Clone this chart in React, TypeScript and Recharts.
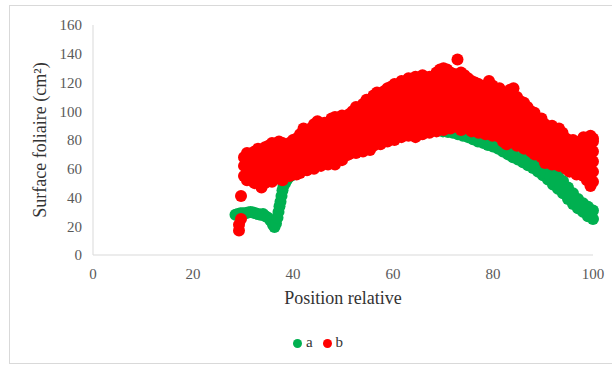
import { Legend, Scatter, ScatterChart, XAxis, YAxis } from 'recharts';

const SERIF = "'Liberation Serif', 'Times New Roman', serif";
const GREEN = '#00B050';
const RED = '#FF0000';

const xTicks = [0, 20, 40, 60, 80, 100];
const yTicks = [0, 20, 40, 60, 80, 100, 120, 140, 160];

// série a : [position relative, surface foliaire]
const aPoints: [number, number][] = [
  [28.5, 28], [29, 28.5], [29.5, 29], [30, 29], [30.5, 29], [31, 29.5], [31.5, 30], [32, 29.5],
  [32.5, 29], [33, 28.5], [33.5, 28], [34, 28.5], [34.5, 27], [35, 26], [35.5, 24], [36, 21],
  [36.3, 19.5], [36.6, 22], [36.9, 26], [37.1, 30], [37.3, 34], [37.5, 37], [37.7, 41], [37.9, 45],
  [38.1, 48], [38.4, 50], [38.7, 52], [39, 53.5], [39.5, 55], [40, 56.5],
  [41, 58], [42, 60], [43, 62], [44, 64], [45, 66], [46, 67.5], [47, 69], [48, 71], [49, 72.5],
  [50, 74], [51, 75], [52, 76.5], [53, 77.5], [54, 78.5], [55, 79.5], [56, 80.5], [57, 81.5],
  [58, 82.5], [59, 83.5], [60, 84], [61, 85], [62, 85.5], [63, 86], [64, 86.5], [65, 87], [66, 87],
  [67, 87], [68, 87], [69, 86.5], [70, 86], [71, 85.5], [72, 85], [73, 84], [74, 83], [75, 82],
  [76, 80.5],
  [77, 79], [78, 78], [79, 76.5], [80, 75.5], [81, 74], [82, 72], [83, 70], [84, 68], [85, 66.5],
  [86, 64.5], [87, 62.5], [88, 60.5], [89, 58], [90, 55.5], [91, 52.5], [92, 49], [93, 46], [94, 43],
  [95, 39], [96, 35.5], [97, 32.5], [98, 30], [99, 27], [100, 25],
  [78, 81], [80, 79], [82, 76], [84, 72.5], [86, 69], [87, 67], [88, 65], [89, 63], [90, 61],
  [91, 59], [92, 57], [93, 55], [94, 51.5], [95, 47], [96, 43], [97, 39], [98, 36], [99, 33.5],
  [100, 31],
  [86.5, 66.5], [87.5, 64.5], [88.5, 62], [89.5, 59.5], [90.5, 57], [91.5, 54.5], [92.5, 51.5],
  [93.5, 48.5], [94.5, 45], [95.5, 41], [96.5, 37.5], [97.5, 34.5], [98.5, 31.5], [99.5, 29],
];

// série b : colonnes [position relative, surfaces foliaires]
const bColumns: [number, number[]][] = [
  [29.2, [17, 21]],
  [29.6, [25, 41]],
  [30.2, [55, 62, 68]],
  [30.8, [52, 58, 65, 71]],
  [31.6, [56, 63, 70]],
  [32.3, [50, 58, 66, 72]],
  [33, [53, 61, 69, 74]],
  [33.7, [47, 55, 64, 72]],
  [34.4, [50, 58, 67, 75]],
  [35.1, [54, 62, 70, 76]],
  [35.8, [51, 59, 66, 73, 78]],
  [36.5, [56, 63, 70, 77]],
  [37.2, [53, 60, 68, 75, 79]],
  [37.9, [52, 58, 65, 72, 78]],
  [38.6, [57, 63, 70, 76]],
  [39.3, [55, 61, 68, 74, 78]],
  [40, [58, 64, 71, 77, 80]],
  [40.7, [56, 62, 69, 75, 81]],
  [41.4, [57, 63, 70, 78, 84]],
  [42.1, [60, 67, 73, 80, 88]],
  [42.8, [59, 65, 72, 79, 85]],
  [43.5, [61, 68, 75, 82, 88]],
  [44.2, [60, 66, 73, 80, 87, 91]],
  [44.9, [63, 70, 77, 84, 93]],
  [45.6, [62, 68, 75, 82, 89]],
  [46.3, [64, 71, 78, 85, 92]],
  [47, [63, 69, 76, 83, 90]],
  [47.7, [65, 72, 79, 86, 95]],
  [48.4, [63, 70, 77, 84, 91, 96]],
  [49.1, [67, 74, 81, 88, 94]],
  [49.8, [66, 72, 79, 86, 92, 97]],
  [50.5, [69, 76, 83, 90, 96]],
  [51.2, [70, 77, 84, 91, 98]],
  [51.9, [72, 79, 86, 93, 100]],
  [52.6, [71, 78, 85, 92, 99, 103]],
  [53.3, [74, 81, 88, 95, 101]],
  [54, [72, 79, 86, 93, 100, 105]],
  [54.7, [75, 82, 89, 96, 103, 108]],
  [55.4, [73, 80, 87, 94, 101, 107]],
  [56.1, [76, 83, 90, 97, 104, 111]],
  [56.8, [78, 85, 92, 99, 106, 113]],
  [57.5, [77, 84, 91, 98, 105, 111]],
  [58.2, [80, 87, 94, 101, 108, 114]],
  [58.9, [79, 86, 93, 100, 107, 116]],
  [59.6, [81, 88, 95, 102, 109, 117]],
  [60.3, [80, 87, 94, 101, 108, 115, 119]],
  [61, [83, 90, 97, 104, 111, 118]],
  [61.7, [82, 89, 96, 103, 110, 117, 121]],
  [62.4, [84, 91, 98, 105, 112, 120]],
  [63.1, [83, 90, 97, 104, 111, 118, 123]],
  [63.8, [85, 92, 99, 106, 113, 120]],
  [64.5, [82, 89, 96, 103, 110, 117, 124]],
  [65.2, [86, 93, 100, 107, 114, 121]],
  [65.9, [84, 91, 98, 105, 112, 119, 125]],
  [66.6, [87, 94, 101, 108, 115, 122]],
  [67.3, [85, 92, 99, 106, 113, 120, 124]],
  [68, [88, 95, 102, 109, 116, 122]],
  [68.7, [86, 93, 100, 107, 114, 121, 127]],
  [69.4, [89, 96, 103, 110, 117, 124, 129]],
  [70.1, [87, 94, 101, 108, 115, 122, 130]],
  [70.8, [90, 97, 104, 111, 118, 125, 129]],
  [71.5, [88, 95, 102, 109, 116, 123, 127]],
  [72.2, [91, 98, 105, 112, 119, 126]],
  [72.9, [89, 96, 103, 110, 117, 124, 136]],
  [73.6, [87, 94, 101, 108, 115, 122, 127]],
  [74.3, [90, 97, 104, 111, 118, 125]],
  [75, [88, 95, 102, 109, 116, 123]],
  [75.7, [86, 93, 100, 107, 114, 121]],
  [76.4, [89, 96, 103, 110, 117, 120]],
  [77.1, [85, 92, 99, 106, 113, 119]],
  [77.8, [88, 95, 102, 109, 116]],
  [78.5, [84, 91, 98, 105, 112, 118]],
  [79.2, [87, 94, 101, 108, 115, 121]],
  [79.9, [83, 90, 97, 104, 111, 118]],
  [80.6, [86, 93, 100, 107, 114]],
  [81.3, [82, 89, 96, 103, 110, 116]],
  [82, [79, 86, 93, 100, 107, 113]],
  [82.7, [77, 84, 91, 98, 105, 112]],
  [83.4, [80, 87, 94, 101, 108, 115]],
  [84.1, [78, 85, 92, 99, 106, 116]],
  [84.8, [76, 83, 90, 97, 104, 110]],
  [85.5, [79, 86, 93, 100, 107]],
  [86.2, [74, 81, 88, 95, 102, 106]],
  [86.9, [77, 84, 91, 98, 103]],
  [87.6, [72, 79, 86, 93, 100]],
  [88.3, [70, 76, 83, 90, 97, 99]],
  [89, [73, 80, 87, 94]],
  [89.7, [68, 75, 82, 89, 95]],
  [90.4, [64, 71, 78, 85, 91]],
  [91.1, [67, 74, 81, 88]],
  [91.8, [63, 70, 77, 84, 90]],
  [92.5, [66, 73, 80, 87]],
  [93.2, [62, 69, 76, 83, 88]],
  [93.9, [65, 72, 79, 85]],
  [94.6, [60, 67, 74, 81]],
  [95.3, [58, 64, 71, 78]],
  [96, [61, 68, 75, 80]],
  [96.7, [56, 63, 70, 77]],
  [97.4, [59, 66, 73, 79]],
  [98.1, [55, 62, 69, 76, 82]],
  [98.8, [52, 59, 66, 73, 80]],
  [99.5, [48, 55, 62, 69, 76, 83]],
  [100, [51, 58, 65, 72, 79, 81]],
];

const aData = aPoints.map(([x, y]) => ({ x, y }));
const bData = bColumns.flatMap(([x, ys]) => ys.map((y) => ({ x, y })));

const tickStyle = { fontFamily: SERIF, fontSize: 15, fill: '#595959' };
const titleStyle = { fontFamily: SERIF, fontSize: 18, fill: '#333333' };

const Dot = (props: any) => <circle cx={props.cx} cy={props.cy} r={6} fill={props.fill} />;

export default function App() {
  return (
    <div
      style={{
        position: 'absolute',
        left: 0,
        top: 0,
        width: 612,
        height: 365,
        background: '#fff',
        overflow: 'hidden',
        fontFamily: SERIF,
      }}
    >
      <div
        style={{
          position: 'absolute',
          left: 9,
          top: 5,
          width: 640,
          height: 357,
          border: '1px solid #d9d9d9',
        }}
      />
      <ScatterChart
        width={612}
        height={365}
        margin={{ top: 25, right: 19, bottom: 60, left: 33 }}
        style={{ fontFamily: SERIF }}
      >
        <XAxis
          type="number"
          dataKey="x"
          domain={[0, 100]}
          ticks={xTicks}
          tickLine={false}
          tickSize={8}
          tickMargin={5}
          height={50}
          axisLine={{ stroke: '#d9d9d9' }}
          tick={tickStyle}
          label={{ value: 'Position relative', position: 'insideBottom', offset: 1, style: titleStyle }}
        />
        <YAxis
          type="number"
          dataKey="y"
          domain={[0, 160]}
          ticks={yTicks}
          tickLine={false}
          tickSize={8}
          tickMargin={3}
          width={60}
          axisLine={{ stroke: '#d9d9d9' }}
          tick={tickStyle}
          label={{ value: 'Surface foliaire (cm²)', angle: -90, position: 'center', dx: -23, style: titleStyle }}
        />
        <Scatter name="a" data={aData} fill={GREEN} shape={Dot} isAnimationActive={false} />
        <Scatter name="b" data={bData} fill={RED} shape={Dot} isAnimationActive={false} />
        <Legend
          verticalAlign="middle"
          align="center"
          iconType="circle"
          iconSize={9}
          wrapperStyle={{ top: 334, left: 17, width: 612, fontFamily: SERIF, fontSize: 15 }}
          formatter={(value) => <span style={{ color: '#333333' }}>{value}</span>}
        />
      </ScatterChart>
    </div>
  );
}
